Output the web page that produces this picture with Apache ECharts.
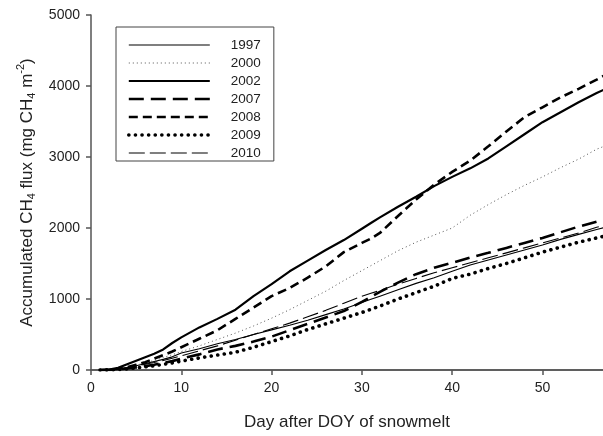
<!DOCTYPE html>
<html>
<head>
<meta charset="utf-8">
<script src="https://cdn.jsdelivr.net/npm/echarts@6/dist/echarts.min.js"></script>
<style>
html,body{margin:0;padding:0;background:#fff;}
#chart{width:603px;height:436px;}
</style>
</head>
<body>
<div id="chart"></div>
<script>
const days = [1,2,3,4,5,6,7,8,9,10,12,14,16,18,20,22,24,26,28,30,31,32,34,36,38,40,42,44,46,48,50,52,54,56,57];

const y1997 = [0,5,15,35,60,90,120,150,185,240,300,370,430,500,565,630,700,780,860,950,995,1040,1130,1220,1300,1390,1480,1550,1620,1690,1760,1840,1910,1980,2010];
const y2000 = [0,3,15,40,70,100,135,175,215,260,340,430,520,620,730,850,980,1110,1260,1400,1470,1540,1680,1800,1900,2000,2180,2330,2470,2600,2720,2850,2970,3110,3160];
const y2002 = [0,5,30,80,130,180,230,290,380,460,600,720,850,1040,1210,1390,1540,1690,1830,1990,2070,2150,2300,2440,2590,2720,2840,2980,3150,3320,3490,3630,3770,3900,3960];
const y2007 = [0,2,8,20,35,55,75,100,125,160,220,290,340,400,470,560,650,740,830,960,1030,1100,1230,1350,1440,1510,1585,1650,1720,1790,1860,1940,2020,2090,2120];
const y2008 = [0,3,15,40,75,110,160,210,260,320,440,560,720,880,1040,1155,1300,1460,1660,1790,1850,1930,2170,2400,2610,2790,2950,3150,3360,3560,3700,3840,3960,4090,4160];
const y2009 = [0,2,6,15,30,45,60,80,100,125,170,210,250,320,400,480,570,650,730,810,855,900,1000,1090,1180,1290,1350,1430,1500,1580,1660,1730,1800,1860,1890];
const y2010 = [0,3,12,30,55,80,105,135,165,200,270,340,420,500,580,660,750,840,940,1040,1080,1120,1210,1290,1370,1440,1510,1580,1650,1720,1790,1860,1930,2010,2040];

const seriesNames = ['1997','2000','2002','2007','2008','2009','2010'];
const seriesValues = [y1997, y2000, y2002, y2007, y2008, y2009, y2010];

const styles = {
  '1997': {width: 1.1, type: 'solid', cap: 'butt', color: '#000'},
  '2000': {width: 1, type: [1, 3], cap: 'butt', color: '#555'},
  '2002': {width: 2.2, type: 'solid', cap: 'butt', color: '#000'},
  '2007': {width: 2.6, type: [15, 7], cap: 'butt', color: '#000'},
  '2008': {width: 2.6, type: [9, 5], cap: 'butt', color: '#000'},
  '2009': {width: 3.6, type: [0.1, 6.5], cap: 'round', color: '#000'},
  '2010': {width: 1.1, type: [16, 5], cap: 'butt', color: '#000'}
};

const FONT = '"Liberation Sans", Arial, sans-serif';

const chart = echarts.init(document.getElementById('chart'), null, {renderer: 'canvas'});

const series = seriesNames.map((name, i) => ({
  name: name,
  type: 'line',
  symbol: 'none',
  smooth: false,
  clip: true,
  animation: false,
  data: days.map((d, j) => [d, seriesValues[i][j]]),
  lineStyle: styles[name],
  itemStyle: {color: styles[name].color},
  emphasis: {disabled: true}
}));

chart.setOption({
  animation: false,
  backgroundColor: '#fff',
  grid: {left: 91, right: 0, top: 15, bottom: 61, containLabel: false},
  legend: {
    orient: 'vertical',
    left: 116,
    top: 27,
    itemWidth: 81,
    itemHeight: 14,
    itemGap: 4,
    padding: [11, 13, 1, 11],
    borderColor: '#444',
    borderWidth: 1,
    itemStyle: {opacity: 0},
    data: seriesNames.map(n => ({
      name: n,
      lineStyle: {
        width: styles[n].width,
        type: styles[n].type,
        cap: styles[n].cap,
        color: styles[n].color
      }
    })),
    textStyle: {fontFamily: FONT, fontSize: 13.5, color: '#222', padding: [0, 0, 0, 16]},
    selectedMode: false
  },
  xAxis: [{
    type: 'value',
    min: 0,
    max: 56.7,
    interval: 10,
    name: 'Day after DOY of snowmelt',
    nameLocation: 'middle',
    nameGap: 44,
    nameTextStyle: {fontFamily: FONT, fontSize: 17, color: '#222'},
    axisLine: {show: true, onZero: false, lineStyle: {color: '#555', width: 1.5}},
    axisTick: {show: true, inside: false, length: 5, lineStyle: {color: '#555', width: 1.5}},
    axisLabel: {fontFamily: FONT, fontSize: 14, color: '#222', margin: 11, showMaxLabel: false},
    splitLine: {show: false}
  }, {
    type: 'value',
    position: 'top',
    min: 0,
    max: 56.7,
    axisLine: {show: true, lineStyle: {color: '#555', width: 1.5}},
    axisTick: {show: false},
    axisLabel: {show: false},
    splitLine: {show: false}
  }],
  yAxis: {
    type: 'value',
    min: 0,
    max: 5000,
    interval: 1000,
    name: '{n|Accumulated CH}{s|4}{n| flux (mg CH}{s|4}{n| m}{p|-2}{n|)}',
    nameLocation: 'middle',
    nameGap: 51,
    nameRotate: 90,
    nameTextStyle: {
      fontFamily: FONT, fontSize: 17, color: '#222',
      rich: {
        n: {fontFamily: FONT, fontSize: 17, color: '#222', lineHeight: 22},
        s: {fontFamily: FONT, fontSize: 11, color: '#222', lineHeight: 11, verticalAlign: 'bottom'},
        p: {fontFamily: FONT, fontSize: 11, color: '#222', lineHeight: 11, verticalAlign: 'top'}
      }
    },
    axisLine: {show: true, onZero: false, lineStyle: {color: '#555', width: 1.5}},
    axisTick: {show: true, inside: false, length: 5, lineStyle: {color: '#555', width: 1.5}},
    axisLabel: {fontFamily: FONT, fontSize: 14, color: '#222', margin: 11, formatter: v => String(v)},
    splitLine: {show: false}
  },
  series: series
});
</script>
</body>
</html>
